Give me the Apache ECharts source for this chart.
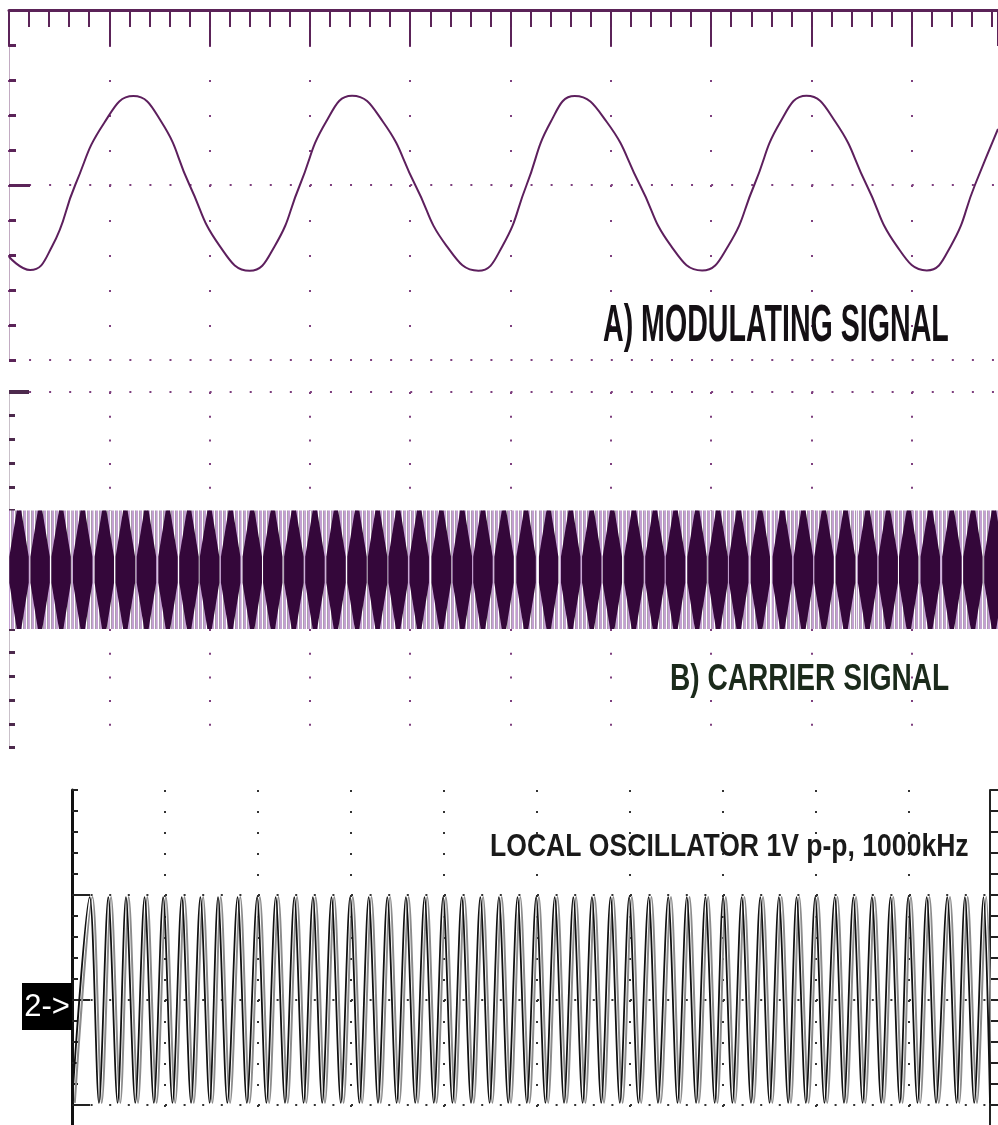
<!DOCTYPE html>
<html><head><meta charset="utf-8">
<script src="https://cdn.jsdelivr.net/npm/echarts@6/dist/echarts.min.js"></script>
<style>html,body{margin:0;padding:0;background:#fff}#c{width:998px;height:1125px}</style>
</head><body><div id="c"></div>
<script>
// ---------- Panel A: modulating signal (x in divisions, y in minor-grid units) ----------
const modX = [0.00,0.21,0.43,0.66,0.95,1.24,1.52,1.80,2.10,2.40,2.65,2.90,3.16,3.42,3.73,4.05,4.36,4.68,4.92,5.16,5.40,5.64,5.96,6.29,6.60,6.91,7.17,7.43,7.69,7.95,8.24,8.55,8.85,9.15,9.39,9.63,9.86];
const modY = [-2.05,-2.43,-1.75,0.00,1.78,2.54,1.80,0.00,-1.74,-2.45,-1.74,0.00,1.80,2.55,1.80,0.00,-1.73,-2.45,-1.74,0.00,1.80,2.54,1.80,0.00,-1.74,-2.44,-1.74,0.00,1.80,2.55,1.80,0.00,-1.74,-2.44,-1.74,0.00,1.60];

// ---------- Panel B: carrier, centres of the dark aliasing diamonds (divisions) ----------
const carrierDiamondX = [0.10,0.31,0.52,0.735,0.95,1.16,1.37,1.585,1.795,2.00,2.21,2.425,2.63,2.84,3.05,3.26,3.47,3.675,3.88,4.09,4.31,4.52,4.725,4.935,5.155,5.38,5.60,5.81,6.015,6.23,6.44,6.645,6.86,7.07,7.275,7.49,7.71,7.92,8.125,8.34,8.56,8.765,8.97,9.185,9.40,9.61,9.82];
const carrierCenter = 7.5;
const carrierAmp = 2.5;

// ---------- Panel C: local oscillator peaks and troughs (divisions) ----------
const loPeakX = [0.19,0.39,0.58,0.78,0.98,1.18,1.38,1.57,1.78,1.99,2.19,2.39,2.59,2.79,2.99,3.19,3.39,3.59,3.79,3.99,4.19,4.39,4.59,4.79,4.99,5.19,5.39,5.59,5.79,5.99,6.20,6.41,6.61,6.81,7.00,7.20,7.40,7.60,7.79,7.99,8.20,8.40,8.60,8.80,8.99,9.19,9.41,9.60,9.80];
const loTroughX = [0.00,0.29,0.49,0.68,0.88,1.08,1.28,1.48,1.67,1.88,2.09,2.29,2.49,2.69,2.89,3.09,3.29,3.49,3.69,3.89,4.09,4.29,4.49,4.69,4.89,5.09,5.29,5.49,5.69,5.89,6.09,6.30,6.51,6.71,6.91,7.10,7.30,7.50,7.70,7.89,8.09,8.30,8.50,8.70,8.90,9.09,9.29,9.51,9.70,9.87];
const loPeakV = 4.9;
const loTroughV = -4.9;

// ---------- texts ----------
const titleA = 'A) MODULATING SIGNAL';
const titleB = 'B) CARRIER SIGNAL';
const titleC = 'LOCAL OSCILLATOR 1V p-p, 1000kHz';
const channelTag = '2->';

// ---------- build data ----------
const modData = modX.map((x, i) => [x, modY[i]]);
const carrierData = carrierDiamondX.map(x => [x, carrierCenter, carrierAmp]);
const loData = loPeakX.map(x => [x, loPeakV]).concat(loTroughX.map(x => [x, loTroughV])).sort((a, b) => a[0] - b[0]);

// stripe pattern for the light part of the carrier band
const pc = document.createElement('canvas');
pc.width = 4; pc.height = 4;
const pctx = pc.getContext('2d');
['#c4a0d2', '#c4a0d2', '#ffffff', '#a99dac'].forEach((c, i) => { pctx.fillStyle = c; pctx.fillRect(i, 0, 1, 4); });
const stripe = { image: pc, repeat: 'repeat' };

const P = '#5b2358', DOT = '#7e3f7e', DOTC = '#333333';
const noLbl = { show: false };
const chart = echarts.init(document.getElementById('c'), null, { renderer: 'canvas' });

function yAx(grid, min, max, interval, extra) {
  return Object.assign({ gridIndex: grid, type: 'value', min: min, max: max, interval: interval, position: 'left',
    axisLine: { show: false, onZero: false }, axisTick: { show: false }, axisLabel: noLbl, splitLine: { show: false } }, extra);
}

chart.setOption({
  animation: false,
  backgroundColor: '#ffffff',
  grid: [
    { left: 9, right: 0, top: 10, height: 350, outerBoundsMode: 'none' },
    { left: 9, right: 0, top: 392, height: 355.5, outerBoundsMode: 'none' },
    { left: 72, right: 8, top: 790, height: 420, outerBoundsMode: 'none' }
  ],
  xAxis: [
    { gridIndex: 0, type: 'value', min: 0, max: 9.86, interval: 1, position: 'top',
      axisLine: { show: true, onZero: false, lineStyle: { color: P, width: 3 } },
      axisTick: { show: true, inside: true, length: 36, lineStyle: { color: P, width: 2 } },
      minorTick: { show: true, splitNumber: 5, length: 17, lineStyle: { color: P, width: 2 } },
      axisLabel: noLbl,
      splitLine: { show: true, showMaxLine: false, lineStyle: { color: DOT, width: 2, type: [2, 33] } } },
    { gridIndex: 1, type: 'value', min: 0, max: 9.86, interval: 1,
      axisLine: { show: false, onZero: false }, axisTick: { show: false }, axisLabel: noLbl,
      splitLine: { show: true, showMinLine: false, showMaxLine: false, lineStyle: { color: DOT, width: 2, type: [2, 21.7] } } },
    { gridIndex: 2, type: 'value', min: 0, max: 9.87, interval: 1,
      axisLine: { show: false, onZero: false }, axisTick: { show: false }, axisLabel: noLbl,
      splitLine: { show: true, showMinLine: false, showMaxLine: false, lineStyle: { color: DOTC, width: 2, type: [2, 19] } } },
    { gridIndex: 2, type: 'value', min: -0.03, max: 9.84, show: false }
  ],
  yAxis: [
    // 0: panel A minor ticks + frame
    yAx(0, -5, 5, 1, { axisLine: { show: true, onZero: false, lineStyle: { color: '#c2abc2', width: 1 } },
      axisTick: { show: true, inside: true, length: 7, lineStyle: { color: P, width: 3 } } }),
    // 1: panel A dotted centre and bottom lines
    yAx(0, -5, 5, 5, { splitLine: { show: true, showMaxLine: false, lineStyle: { color: DOT, width: 2, type: [2, 18.06] } } }),
    // 2: panel A long centre tick
    yAx(0, -5, 5, 5, { axisTick: { show: true, inside: true, length: 21, customValues: [0], lineStyle: { color: P, width: 3 } } }),
    // 3: panel B minor ticks + frame (series axis)
    yAx(1, 0, 15, 1, { axisLine: { show: true, onZero: false, lineStyle: { color: '#c9c0c9', width: 1 } },
      axisTick: { show: true, inside: true, length: 6, lineStyle: { color: '#4d2a4d', width: 3 } } }),
    // 4: panel B dotted top line
    yAx(1, 0, 15, 15, { splitLine: { show: true, showMinLine: false, lineStyle: { color: DOT, width: 2, type: [2, 18.06] } } }),
    // 5: panel B top bar
    yAx(1, 0, 15, 15, { axisTick: { show: true, inside: true, length: 20, customValues: [15], lineStyle: { color: '#4d2a4d', width: 4 } } }),
    // 6: panel C left axis (series axis)
    yAx(2, -10, 10, 1, { axisLine: { show: true, onZero: false, lineStyle: { color: '#111', width: 3 } },
      axisTick: { show: true, inside: true, length: 6, lineStyle: { color: '#222', width: 2 } } }),
    // 7: panel C dotted lines
    yAx(2, -10, 10, 5, { splitLine: { show: true, showMaxLine: false, lineStyle: { color: DOTC, width: 2, type: [2, 16.6] } } }),
    // 8: panel C long ticks
    yAx(2, -10, 10, 5, { axisTick: { show: true, inside: true, length: 18, customValues: [-5, 0, 5], lineStyle: { color: '#222', width: 2 } } }),
    // 9: panel C right frame
    yAx(2, -10, 10, 1, { position: 'right', axisLine: { show: true, onZero: false, lineStyle: { color: '#222', width: 2 } },
      axisTick: { show: true, inside: false, length: 8, lineStyle: { color: '#222', width: 2 } } })
  ],
  series: [
    { type: 'line', xAxisIndex: 0, yAxisIndex: 0, data: modData, smooth: true, symbol: 'none',
      lineStyle: { color: '#5d1f5d', width: 2 } },
    { type: 'custom', xAxisIndex: 1, yAxisIndex: 3, data: carrierData, clip: true,
      renderItem: function (params, api) {
        const xc = api.value(0), mid = api.value(1), amp = api.value(2);
        const hw = 0.097, hs = 0.106, tip = 0.022, knee = 0.22;
        const tl = api.coord([xc - tip, mid + amp]), tr = api.coord([xc + tip, mid + amp]);
        const bl = api.coord([xc - tip, mid - amp]), br = api.coord([xc + tip, mid - amp]);
        const ru = api.coord([xc + hw, mid + amp * knee]), rd = api.coord([xc + hw, mid - amp * knee]);
        const lu = api.coord([xc - hw, mid + amp * knee]), ld = api.coord([xc - hw, mid - amp * knee]);
        const sl = api.coord([xc - hs, mid]), sr = api.coord([xc + hs, mid]);
        return { type: 'group', children: [
          { type: 'rect', shape: { x: sl[0], y: tl[1], width: sr[0] - sl[0], height: bl[1] - tl[1] }, style: { fill: stripe } },
          { type: 'polygon', shape: { points: [tl, tr, ru, rd, br, bl, ld, lu] }, style: { fill: '#34073a' } }
        ] };
      } },
    { type: 'line', xAxisIndex: 3, yAxisIndex: 6, data: loData, smooth: 0.3, symbol: 'none',
      lineStyle: { color: '#8c8c8c', width: 2 }, z: 2 },
    { type: 'line', xAxisIndex: 2, yAxisIndex: 6, data: loData, smooth: 0.3, symbol: 'none',
      lineStyle: { color: '#111111', width: 1.8 }, z: 3 }
  ],
  graphic: [
    { type: 'text', x: 603, y: 327, scaleX: 0.55, z: 10,
      style: { text: titleA, font: 'bold 52px "Liberation Sans"', fill: '#141014', align: 'left', verticalAlign: 'middle' } },
    { type: 'text', x: 670, y: 680, scaleX: 0.78, z: 10,
      style: { text: titleB, font: 'bold 36px "Liberation Sans"', fill: '#1b2a1b', align: 'left', verticalAlign: 'middle' } },
    { type: 'text', x: 490, y: 847, scaleX: 0.83, z: 10,
      style: { text: titleC, font: 'bold 32px "Liberation Sans"', fill: '#1a1a1a', align: 'left', verticalAlign: 'middle' } },
    { type: 'rect', shape: { x: 22, y: 983, width: 50, height: 47 }, style: { fill: '#000' }, z: 10 },
    { type: 'text', x: 47, y: 1007, z: 11,
      style: { text: channelTag, font: '31px "Liberation Sans"', fill: '#fff', align: 'center', verticalAlign: 'middle' } }
  ]
});
</script></body></html>
